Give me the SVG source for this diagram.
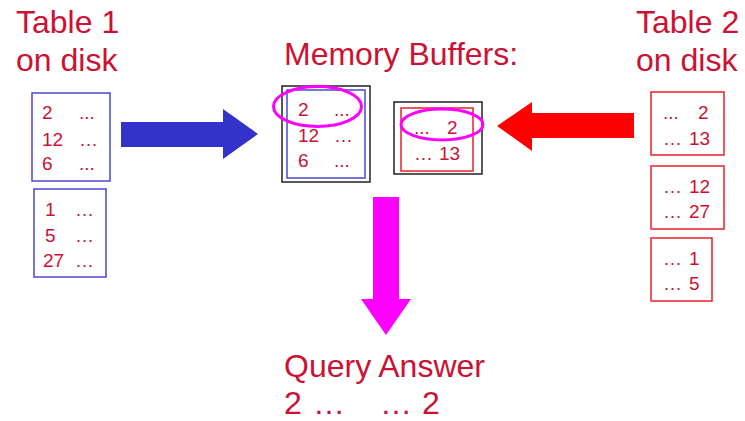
<svg xmlns="http://www.w3.org/2000/svg" width="745" height="421" viewBox="0 0 745 421">
  <style>
    text { font-family: "Liberation Sans", Arial, sans-serif; fill: #CC1133; }
    .big { font-size: 32px; }
    .row { font-size: 19px; }
    .blue { fill: none; stroke: #4848D0; stroke-width: 1.5; }
    .red { fill: none; stroke: #E8202A; stroke-width: 1.5; }
    .frame { fill: none; stroke: #222; stroke-width: 1.5; }
    .hl { fill: none; stroke: #FF00FF; stroke-width: 3; }
  </style>
  <rect width="745" height="421" fill="#fff"/>

  <!-- Table 1 on disk -->
  <g id="table1">
    <text class="big" x="16" y="33">Table 1</text>
    <text class="big" x="16" y="71">on disk</text>
  </g>
  <g id="t1-page1">
    <rect class="blue" x="32" y="93" width="78" height="88"/>
    <text class="row" x="42" y="119">2</text><text class="row" x="79" y="119">...</text>
    <text class="row" x="42" y="146">12</text><text class="row" x="79" y="146">…</text>
    <text class="row" x="42" y="170">6</text><text class="row" x="79" y="170">...</text>
  </g>
  <g id="t1-page2">
    <rect class="blue" x="34" y="189" width="72" height="88"/>
    <text class="row" x="45" y="216">1</text><text class="row" x="75" y="216">…</text>
    <text class="row" x="45" y="242">5</text><text class="row" x="75" y="242">…</text>
    <text class="row" x="43" y="267">27</text><text class="row" x="75" y="267">…</text>
  </g>

  <!-- Memory buffers -->
  <g id="memory">
    <text class="big" x="284" y="65">Memory Buffers:</text>
  </g>
  <g id="buffer1">
    <rect class="frame" x="282" y="86" width="88" height="96"/>
    <rect class="blue" x="287" y="90" width="78" height="88"/>
    <text class="row" x="298" y="116">2</text><text class="row" x="334" y="116">...</text>
    <text class="row" x="298" y="142">12</text><text class="row" x="334" y="142">…</text>
    <text class="row" x="298" y="167">6</text><text class="row" x="334" y="167">...</text>
    <ellipse class="hl" cx="317.5" cy="106.5" rx="44" ry="20"/>
  </g>
  <g id="buffer2">
    <rect class="frame" x="394" y="102" width="88" height="72"/>
    <rect class="red" x="401" y="108" width="72" height="63"/>
    <text class="row" x="414" y="134">...</text><text class="row" x="447" y="134">2</text>
    <text class="row" x="414" y="160">…</text><text class="row" x="439" y="160">13</text>
    <ellipse class="hl" cx="442" cy="124.5" rx="41" ry="15.5"/>
  </g>

  <!-- Table 2 on disk -->
  <g id="table2">
    <text class="big" x="636" y="33">Table 2</text>
    <text class="big" x="636" y="71">on disk</text>
  </g>
  <g id="t2-page1">
    <rect class="red" x="651" y="92" width="73" height="63"/>
    <text class="row" x="663" y="119">...</text><text class="row" x="698" y="119">2</text>
    <text class="row" x="663" y="145">…</text><text class="row" x="689" y="145">13</text>
  </g>
  <g id="t2-page2">
    <rect class="red" x="651" y="166" width="73" height="63"/>
    <text class="row" x="663" y="193">…</text><text class="row" x="689" y="193">12</text>
    <text class="row" x="663" y="218">…</text><text class="row" x="689" y="218">27</text>
  </g>
  <g id="t2-page3">
    <rect class="red" x="651" y="238" width="61" height="63"/>
    <text class="row" x="663" y="265">…</text><text class="row" x="689" y="265">1</text>
    <text class="row" x="663" y="290">…</text><text class="row" x="689" y="290">5</text>
  </g>

  <!-- Query answer -->
  <g id="answer">
    <text class="big" x="284" y="377">Query Answer</text>
    <text class="big" y="414"><tspan x="284">2</tspan><tspan x="313">…</tspan><tspan x="380">…</tspan><tspan x="422">2</tspan></text>
  </g>

  <!-- Block arrows -->
  <g id="connectors">
    <polygon fill="#3333CC" points="121,122 223,122 223,109 258,134 223,159 223,147 121,147"/>
    <polygon fill="#FF0000" points="634,113 532,113 532,102 497,126 532,151 532,138 634,138"/>
    <polygon fill="#FF00FF" points="373,197 399,197 399,299 411,299 386,335 361,299 373,299"/>
  </g>
</svg>
